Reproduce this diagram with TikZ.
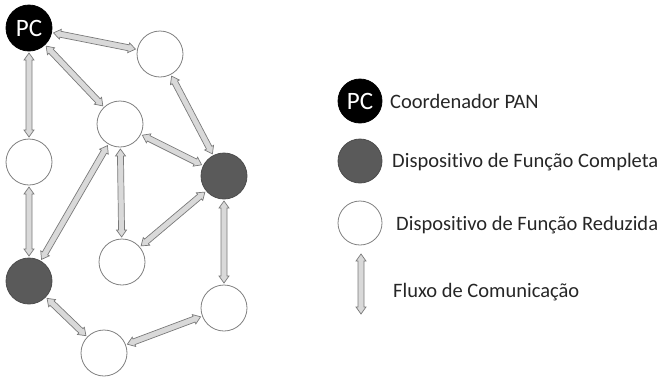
\documentclass[tikz,border=0pt]{standalone}
\usepackage{fontspec}
\setmainfont[Ligatures={NoCommon,NoRequired}, Contextuals=NoAlternate]{Carlito}
\usetikzlibrary{calc}
\definecolor{darkdev}{HTML}{5A5A5A}
\definecolor{ringgray}{HTML}{808080}
\definecolor{flowfill}{HTML}{D9D9D9}
\definecolor{flowline}{HTML}{7A7A7A}
\tikzset{
  dev/.style={circle, minimum size=46pt, inner sep=0pt, draw=ringgray, line width=0.8pt, fill=white},
  fulldev/.style={dev, fill=darkdev, draw=darkdev!85!black},
  pcdev/.style={dev, fill=black, draw=black, text=white, font=\fontsize{25}{25}\selectfont},
  flow/.style={fill=flowfill, draw=flowline, line width=0.7pt, line join=miter},
  legtext/.style={anchor=west, font=\fontsize{20.5}{24}\selectfont, text=black!85, inner sep=0pt}
}
\newcommand\flowarrow[3][25pt]{%
  \coordinate (fs) at ($(#2)!#1!(#3)$);
  \coordinate (fe) at ($(#3)!#1!(#2)$);
  \coordinate (fs1) at ($(fs)!7pt!(fe)$);
  \coordinate (fe1) at ($(fe)!7pt!(fs)$);
  \draw[flow] (fs) -- ($(fs1)!5pt!90:(fe)$) -- ($(fs1)!3pt!90:(fe)$)
    -- ($(fe1)!3pt!-90:(fs)$) -- ($(fe1)!5pt!-90:(fs)$) -- (fe)
    -- ($(fe1)!5pt!90:(fs)$) -- ($(fe1)!3pt!90:(fs)$)
    -- ($(fs1)!3pt!-90:(fe)$) -- ($(fs1)!5pt!-90:(fe)$) -- cycle;%
}
\begin{document}
\begin{tikzpicture}[x=1pt, y=-1pt]
  \useasboundingbox (0,0) rectangle (668,376);
  % network
  \node[pcdev] (pc) at (29,28) {PC};
  \node[dev] (n1) at (160,54) {};
  \node[dev] (n2) at (120,124) {};
  \node[dev] (n3) at (29,162) {};
  \node[fulldev] (d1) at (224,176) {};
  \node[fulldev] (d2) at (29,281) {};
  \node[dev] (n4) at (122,262) {};
  \node[dev] (n5) at (224,308) {};
  \node[dev] (n6) at (104,353) {};
  \flowarrow{pc}{n1}
  \flowarrow{pc}{n3}
  \flowarrow{pc}{n2}
  \flowarrow{n1}{d1}
  \flowarrow{n2}{d1}
  \flowarrow{n2}{n4}
  \flowarrow{n2}{d2}
  \flowarrow{n3}{d2}
  \flowarrow{d1}{n4}
  \flowarrow{d1}{n5}
  \flowarrow{d2}{n6}
  \flowarrow{n6}{n5}
  % legend
  \node[pcdev, minimum size=44pt] (lpc) at (360,101) {PC};
  \node[legtext] (tpc) at (390,101) {Coordenador PAN};
  \node[fulldev, minimum size=44pt] (lfull) at (360,161) {};
  \node[legtext] (tfull) at (392,162) {Dispositivo de Função Completa};
  \node[dev, minimum size=44pt] (lred) at (360,223) {};
  \node[legtext] (tred) at (396,225) {Dispositivo de Função Reduzida};
  \coordinate (la) at (361,254);
  \coordinate (lb) at (361,314);
  \flowarrow[0pt]{la}{lb}
  \node[legtext] (tflow) at (393,292) {Fluxo de Comunicação};
\end{tikzpicture}
\end{document}
